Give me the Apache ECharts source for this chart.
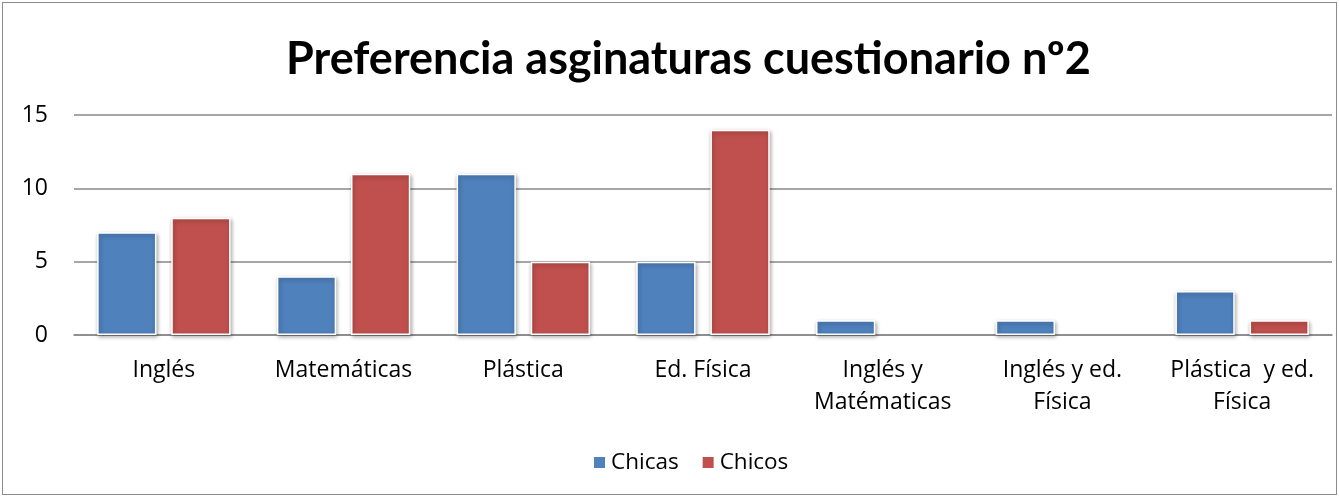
<!DOCTYPE html>
<html>
<head>
<meta charset="utf-8">
<script src="https://cdn.jsdelivr.net/npm/echarts@6/dist/echarts.min.js"></script>
<style>
html,body{margin:0;padding:0;background:#fff;}
#frame{position:absolute;left:2px;top:2px;width:1333px;height:491px;border:1.5px solid #8c8c8c;}
#chart{position:absolute;left:0;top:0;width:1339px;height:497px;}
</style>
</head>
<body>
<div id="frame"></div>
<div id="chart"></div>
<script>
const categories = ['Inglés', 'Matemáticas', 'Plástica', 'Ed. Física', 'Inglés y\nMatématicas', 'Inglés y ed.\nFísica', 'Plástica  y ed.\nFísica'];
const chicas = [7, 4, 11, 5, 1, 1, 3];
const chicos = [8, 11, 5, 14, 0, 0, 1];
const yTicks = [0, 5, 10, 15];
const titleText = 'Preferencia asginaturas cuestionario nº2';

const chart = echarts.init(document.getElementById('chart'));
const font = '"Open Sans", sans-serif';
const barStyle = (c) => ({
  color: c, borderColor: '#fff', borderWidth: 1.5,
  shadowColor: 'rgba(0,0,0,0.35)', shadowBlur: 4, shadowOffsetX: 1, shadowOffsetY: 2
});
const toItems = (arr) => arr.map(v => v === 0 ? {value: v, itemStyle: {shadowBlur: 0, shadowOffsetX: 0, shadowOffsetY: 0, borderWidth: 0, shadowColor: 'transparent'}} : v);
chart.setOption({
  animation: false,
  title: {
    text: titleText, left: 281, top: 32,
    textStyle: {fontFamily: 'Lato, sans-serif', fontWeight: 'bold', fontSize: 45, color: '#000'}
  },
  legend: {
    data: ['Chicas', 'Chicos'], top: 446, left: 587,
    itemWidth: 13, itemHeight: 13, itemGap: 22, icon: 'rect',
    textStyle: {fontFamily: font, fontSize: 22.5, color: '#000'}
  },
  grid: {left: 74, right: 7, top: 115, bottom: 162, containLabel: false},
  xAxis: {
    type: 'category', data: categories,
    axisLine: {lineStyle: {color: '#888', width: 1.5}},
    axisTick: {show: false},
    axisLabel: {fontFamily: font, fontSize: 23, color: '#000', margin: 19, lineHeight: 32, interval: 0}
  },
  yAxis: {
    type: 'value', min: yTicks[0], max: yTicks[yTicks.length - 1], interval: 5,
    axisLine: {show: false}, axisTick: {show: false},
    splitLine: {lineStyle: {color: '#888', width: 1.5}},
    axisLabel: {fontFamily: font, fontSize: 23, color: '#000', margin: 26}
  },
  series: [
    {name: 'Chicas', type: 'bar', data: toItems(chicas), barWidth: '33%', barGap: '25%', itemStyle: barStyle('#4F81BD')},
    {name: 'Chicos', type: 'bar', data: toItems(chicos), barWidth: '33%', barGap: '25%', itemStyle: barStyle('#C0504D')}
  ]
});
</script>
</body>
</html>
